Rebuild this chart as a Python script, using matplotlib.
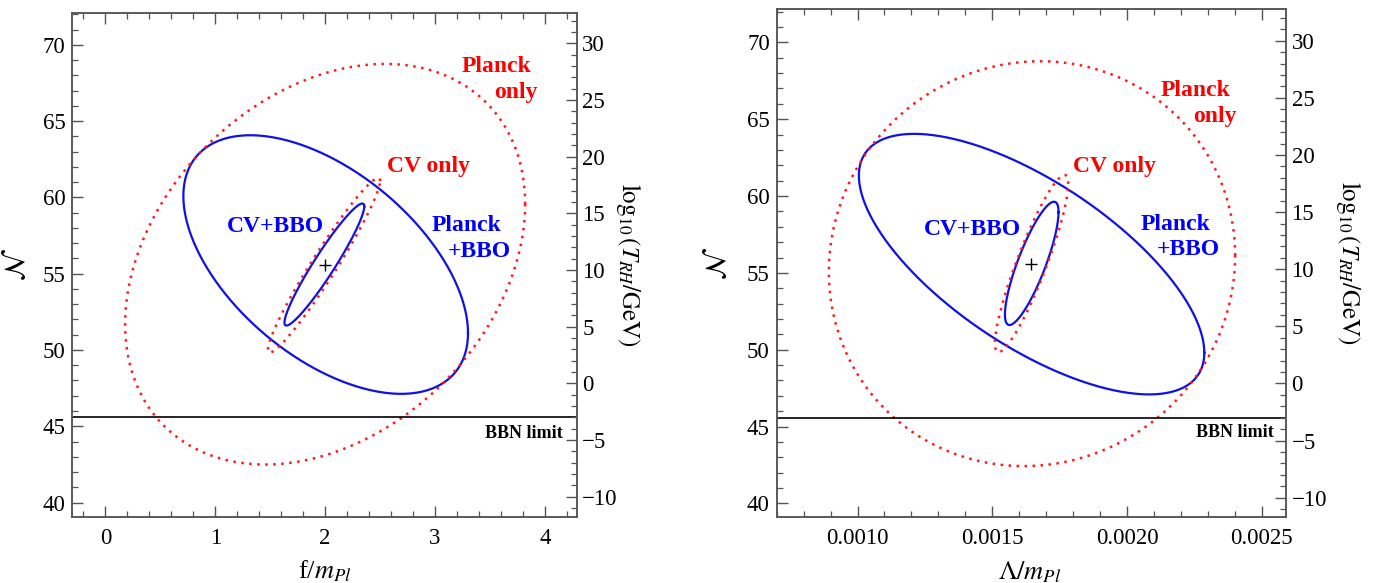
import numpy as np
import matplotlib
matplotlib.use("Agg")
import matplotlib.pyplot as plt
from matplotlib.ticker import MultipleLocator

plt.rcParams['font.family'] = ['Liberation Serif', 'DejaVu Serif']
plt.rcParams['mathtext.fontset'] = 'stix'

# ---------------- data ----------------
# ellipse parameters: centre x, centre N, x half-extent, N half-extent, correlation
# left panel (f/m_Pl)
L_planck_only = (2.00, 55.62, 1.82, 13.13, 0.30)
L_planck_bbo = (2.005, 55.60, 1.295, 8.475, -0.53)
L_cv_only = (1.99, 55.55, 0.51, 5.72, 0.965)
L_cv_bbo = (1.993, 55.60, 0.363, 4.00, 0.95)
L_fiducial = (2.0, 55.55)

# right panel (Lambda/m_Pl)
R_planck_only = (0.0016475, 55.60, 0.000754, 13.17, 0.04)
R_planck_bbo = (0.001646, 55.57, 0.000641, 8.475, -0.68)
R_cv_only = (0.001646, 55.61, 0.000136, 5.76, 0.90)
R_cv_bbo = (0.0016465, 55.62, 0.0000995, 4.01, 0.83)
R_fiducial = (0.001645, 55.55)

N_bbn = 45.58          # BBN limit in N (T_RH = 1 MeV)
T_bbn = -3.0           # log10(T_RH/GeV) at BBN limit
N_per_decade = 0.743   # dN / dlog10(T_RH)

L_xlim = (-0.30, 4.29)
R_xlim = (0.0007, 0.00259)
L_ylim = (39.07, 72.07)
R_ylim = (39.10, 72.17)

L_xticks = [0, 1, 2, 3, 4]
R_xticks = [0.0010, 0.0015, 0.0020, 0.0025]
R_xticklabels = ['0.0010', '0.0015', '0.0020', '0.0025']
N_ticks = [40, 45, 50, 55, 60, 65, 70]
T_ticks = [-10, -5, 0, 5, 10, 15, 20, 25, 30]

# text annotations: (text, x, N, colour, size)
L_texts = [("Planck", 3.56, 68.55, 'red', 17), ("only", 3.74, 66.85, 'red', 17),
           ("CV only", 2.94, 62.0, 'red', 17),
           ("CV+BBO", 1.545, 58.1, 'blue', 17),
           ("Planck", 3.285, 58.15, 'blue', 17), ("+BBO", 3.40, 56.45, 'blue', 17),
           ("BBN limit", 3.81, 44.5, 'black', 13)]
R_texts = [("Planck", 0.002253, 66.85, 'red', 17), ("only", 0.002326, 65.15, 'red', 17),
           ("CV only", 0.0019545, 61.9, 'red', 17),
           ("CV+BBO", 0.001427, 57.8, 'blue', 17),
           ("Planck", 0.00218, 58.15, 'blue', 17), ("+BBO", 0.002229, 56.5, 'blue', 17),
           ("BBN limit", 0.0023994, 44.6, 'black', 13)]

BLUE = '#1010e8'
RED = '#ff1a1a'
SPINE = '#555555'
TICKSIZE = 16.5


def ellipse(p, n=500):
    cx, cy, ax_, ay_, rho = p
    t = np.linspace(0, 2 * np.pi, n)
    x = cx + ax_ * np.cos(t)
    y = cy + ay_ * (rho * np.cos(t) + np.sqrt(1 - rho ** 2) * np.sin(t))
    return x, y


fig = plt.figure(figsize=(13.73, 5.83), dpi=100)
axL = fig.add_axes([0.0527, 0.1137, 0.3674, 0.8635])
axR = fig.add_axes([0.5657, 0.1127, 0.3709, 0.8719])


def style_axes(ax, xlim, ylim, xminor):
    ax.set_xlim(*xlim)
    ax.set_ylim(*ylim)
    ax.yaxis.set_major_locator(matplotlib.ticker.FixedLocator(N_ticks))
    ax.yaxis.set_minor_locator(MultipleLocator(1))
    ax.xaxis.set_minor_locator(MultipleLocator(xminor))
    ax.tick_params(which='both', direction='in', top=True, right=False,
                   color=SPINE, labelsize=TICKSIZE)
    ax.tick_params(which='major', length=8, width=1.0)
    ax.tick_params(which='minor', length=4.5, width=0.9)
    ax.tick_params(axis='x', pad=8)
    ax.tick_params(axis='y', pad=5)
    for s in ax.spines.values():
        s.set_color(SPINE)
        s.set_linewidth(1.1)
    ax.set_ylabel(r'$\mathcal{N}$', fontsize=21)
    ax2 = ax.twinx()
    T_lo = T_bbn + (ylim[0] - N_bbn) / N_per_decade
    T_hi = T_bbn + (ylim[1] - N_bbn) / N_per_decade
    ax2.set_ylim(T_lo, T_hi)
    ax2.yaxis.set_major_locator(matplotlib.ticker.FixedLocator(T_ticks))
    ax2.yaxis.set_minor_locator(MultipleLocator(1))
    ax2.tick_params(which='both', direction='in', color=SPINE,
                    labelsize=TICKSIZE, pad=4)
    ax2.tick_params(which='major', length=8, width=1.0)
    ax2.tick_params(which='minor', length=4.5, width=0.9)
    for s in ax2.spines.values():
        s.set_color(SPINE)
        s.set_linewidth(1.1)
    ax2.set_ylabel(r'$\log_{10}(T_{RH}/\mathrm{GeV})$', fontsize=18, rotation=-90)
    return ax2


def draw(ax, po, pb, co, cb, fid, texts):
    ax.plot(*ellipse(pb), color=BLUE, lw=1.6)
    ax.plot(*ellipse(cb), color=BLUE, lw=1.6)
    ax.plot(*ellipse(po), color=RED, lw=1.8, ls=(0, (1, 2.2)))
    ax.plot(*ellipse(co), color=RED, lw=1.8, ls=(0, (1, 2.2)))
    ax.axhline(N_bbn, color='black', lw=1.2)
    ax.plot([fid[0]], [fid[1]], marker='+', color='black', ms=9, mew=1.0)
    for s, x, y, c, fs in texts:
        ax.text(x, y, s, color=c, fontsize=fs, fontweight='bold',
                ha='center', va='center')


draw(axL, L_planck_only, L_planck_bbo, L_cv_only, L_cv_bbo, L_fiducial, L_texts)
draw(axR, R_planck_only, R_planck_bbo, R_cv_only, R_cv_bbo, R_fiducial, R_texts)

axL2 = style_axes(axL, L_xlim, L_ylim, 0.2)
axR2 = style_axes(axR, R_xlim, R_ylim, 0.0001)

axL.set_xticks(L_xticks)
axL.set_xticklabels([str(v) for v in L_xticks])
axR.set_xticks(R_xticks)
axR.set_xticklabels(R_xticklabels)

axL.set_xlabel(r'f/$m_{Pl}$', fontsize=19)
axR.set_xlabel(r'$\Lambda/m_{Pl}$', fontsize=19)

axL.yaxis.set_label_coords(-0.082, 0.5)
axR.yaxis.set_label_coords(-0.088, 0.5)
axL2.yaxis.set_label_coords(1.132, 0.5)
axR2.yaxis.set_label_coords(1.152, 0.5)
axL.xaxis.set_label_coords(0.5, -0.082)
axR.xaxis.set_label_coords(0.497, -0.082)

fig.savefig('out.png', dpi=100)
